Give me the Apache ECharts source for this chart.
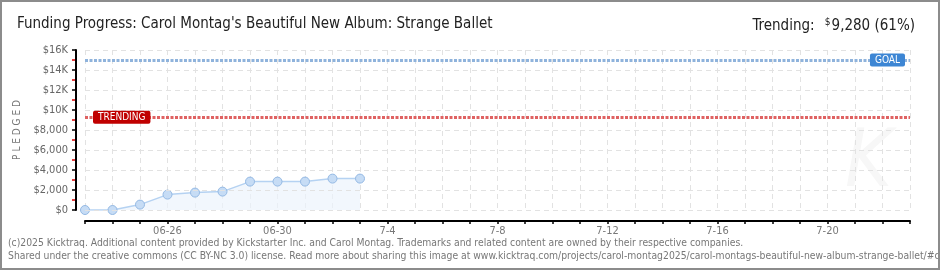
<!DOCTYPE html>
<html><head><meta charset="utf-8">
<script src="https://cdn.jsdelivr.net/npm/echarts@6/dist/echarts.min.js"></script>
<style>
html,body{margin:0;padding:0;background:#fff;}
#c{width:940px;height:270px;box-sizing:border-box;border:2px solid #8c8c8c;}
</style></head><body>
<div id="c"></div>
<script>
const dates = ['06-23','06-24','06-25','06-26','06-27','06-28','06-29','06-30','7-1','7-2','7-3','7-4','7-5','7-6','7-7','7-8','7-9','7-10','7-11','7-12','7-13','7-14','7-15','7-16','7-17','7-18','7-19','7-20','7-21','7-22','7-23'];
const pledged = [0, 0, 540, 1540, 1740, 1840, 2840, 2840, 2840, 3140, 3140];
const yTickLabels = ['$0','$2,000','$4,000','$6,000','$8,000','$10K','$12K','$14K','$16K'];
const minorTickValues = [1000, 3000, 5000, 7000, 9000, 11000, 13000, 15000];
const goal = 15000;
const trending = 9280;
const titleText = "Funding Progress: Carol Montag's Beautiful New Album: Strange Ballet";
const trendLabel = 'Trending:';
const trendValue = '9,280 (61%)';
const footer1 = '(c)2025 Kicktraq. Additional content provided by Kickstarter Inc. and Carol Montag. Trademarks and related content are owned by their respective companies.';
const footer2 = 'Shared under the creative commons (CC BY-NC 3.0) license. Read more about sharing this image at www.kicktraq.com/projects/carol-montag2025/carol-montags-beautiful-new-album-strange-ballet/#chart-daily';

const FONT = '"Liberation Sans Narrow","DejaVu Sans Condensed","Roboto Condensed","Liberation Sans",sans-serif';
const chart = echarts.init(document.getElementById('c'), null, {renderer:'canvas'});
chart.setOption({
  animation:false,
  textStyle:{fontFamily:FONT},
  title:[
    {text:titleText, left:10, top:10, textStyle:{fontFamily:FONT,fontSize:15,fontWeight:'normal',color:'#222'}},
    {text:'{a|'+trendLabel+'}  {s|$}{a|'+trendValue+'}', right:18, top:10,
     textStyle:{fontWeight:'normal', rich:{a:{fontFamily:FONT,fontSize:15,fontWeight:'normal',color:'#222'}, s:{fontFamily:FONT,fontSize:10,fontWeight:'normal',color:'#222',verticalAlign:'top',padding:[0,1,6,0]}}}}
  ],
  graphic:[
    {type:'text', left:6, top:236, style:{text:footer1, fill:'#777', font:'10.3px '+FONT}},
    {type:'text', left:6, top:249, style:{text:footer2, fill:'#777', font:'10.3px '+FONT}},
    {type:'text', left:843, top:123, style:{text:'K', fill:'#f7f7f7', font:'italic 80px '+FONT}}
  ],
  grid:{left:83, right:28, top:48, bottom:58},
  xAxis:{
    type:'category', data:dates, boundaryGap:false, offset:11,
    axisLine:{onZero:false, lineStyle:{color:'#000',width:2}},
    axisTick:{show:true, interval:0, length:3, lineStyle:{color:'#000',width:1.5}},
    axisLabel:{interval:function(i){return i%4===3;}, color:'#777', fontSize:11, margin:5, fontFamily:FONT},
    splitLine:{show:true, interval:0, lineStyle:{color:'#e2e2e2', type:[5,4]}}
  },
  yAxis:[{
    type:'value', min:0, max:16000, interval:2000, offset:9, position:'left', z:5,
    name:'P L E D G E D', nameLocation:'middle', nameGap:54, nameRotate:90,
    nameTextStyle:{color:'#777', fontSize:10, fontFamily:FONT},
    axisLine:{show:true, onZero:false, lineStyle:{color:'#000',width:2}},
    axisTick:{show:true, length:4, lineStyle:{color:'#000',width:1.5}},
    axisLabel:{color:'#666', fontSize:11, margin:8, fontFamily:FONT, formatter:function(v){return yTickLabels[Math.round(v/2000)];}},
    splitLine:{show:true, lineStyle:{color:'#e2e2e2', type:[5,4]}}
  },{
    type:'value', min:0, max:16000, interval:1000, offset:9, position:'left', z:4,
    axisLine:{show:false, onZero:false},
    axisTick:{show:true, length:4, customValues:minorTickValues, lineStyle:{color:'#e00000',width:1.5}},
    axisLabel:{show:false},
    splitLine:{show:false}
  }],
  series:[{
    type:'line', data:pledged, symbol:'circle', symbolSize:9, yAxisIndex:0,
    itemStyle:{color:'#c6dcf5', borderColor:'#93b8e3', borderWidth:1},
    lineStyle:{color:'#b5d2f2', width:1.5},
    areaStyle:{color:'#edf4fc'},
    markLine:{
      silent:true, symbol:'none', animation:false,
      data:[
        {yAxis:goal, lineStyle:{color:'#8fb3dc', width:3, type:[3,1.5]},
         label:{formatter:'GOAL', position:'insideEnd', distance:5, color:'#fff', backgroundColor:'#3d86d4', padding:[2,5,1,5], borderRadius:2, fontSize:10, fontFamily:FONT}},
        {yAxis:trending, lineStyle:{color:'#df6262', width:3, type:[3,1.5]},
         label:{formatter:'TRENDING', position:'insideStart', distance:8, color:'#fff', backgroundColor:'#c00000', padding:[2,5,1,5], borderRadius:2, fontSize:10, fontFamily:FONT}}
      ]
    }
  }]
});
</script>
</body></html>
